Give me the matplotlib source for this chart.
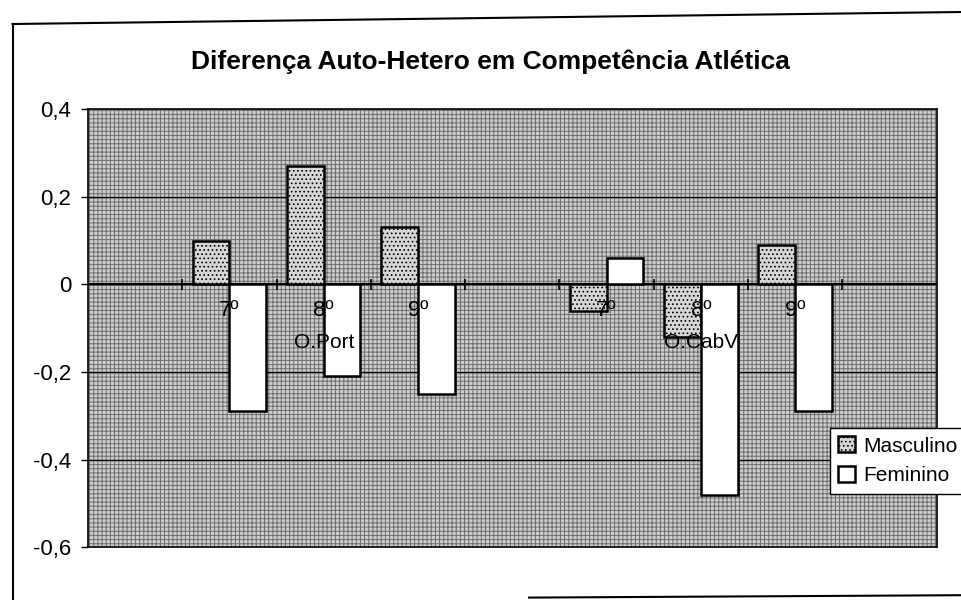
import numpy as np
import matplotlib.pyplot as plt
from matplotlib.lines import Line2D
from matplotlib.patches import Rectangle

plt.rcParams['font.family'] = ['Liberation Sans', 'DejaVu Sans']
plt.rcParams['hatch.linewidth'] = 0.7

# Data
categories = ['', '7º', '8º', '9º', '', '7º', '8º', '9º', '']
groups = ['O.Port', 'O.CabV']
group_centers = [2, 6]
masculino = [np.nan, 0.10, 0.27, 0.13, np.nan, -0.06, -0.12, 0.09, np.nan]
feminino = [np.nan, -0.29, -0.21, -0.25, np.nan, 0.06, -0.48, -0.29, np.nan]
yticks = [-0.6, -0.4, -0.2, 0, 0.2, 0.4]

fig = plt.figure(figsize=(9.62, 6.0), dpi=100)
ax = fig.add_axes([0.0915, 0.088, 0.882, 0.730])

x = np.arange(len(categories))
w = 0.39

# patterned plot area
ax.set_facecolor('#cdcdcd')
ax.add_patch(Rectangle((0, 0), 1, 1, transform=ax.transAxes, facecolor='none',
                       edgecolor='#6e6e6e', hatch='++++', linewidth=0, zorder=0))

ax.bar(x - w / 2, masculino, w, facecolor='#d6d6d6', edgecolor='black',
       hatch='....', linewidth=1.8, label='Masculino', zorder=3)
ax.bar(x + w / 2, feminino, w, facecolor='white', edgecolor='black',
       linewidth=1.8, label='Feminino', zorder=3)

ax.set_xlim(-0.5, len(categories) - 0.5)
ax.set_ylim(-0.6, 0.4)
ax.set_yticks(yticks)
ax.set_yticklabels([f'{v:.1f}'.replace('.', ',') if v != 0 else '0' for v in yticks],
                   fontsize=16)
ax.tick_params(axis='y', length=5, width=1, pad=7)
ax.set_xticks([])
for v in yticks[1:-1]:
    ax.axhline(v, color='black', linewidth=1, zorder=2)
ax.axhline(0, color='black', linewidth=1.5, zorder=2)
for s in ax.spines.values():
    s.set_linewidth(1.2)

# category tick marks crossing the zero axis
bounds = x[:-1] + 0.5
ax.vlines(bounds, -0.012, 0.012, color='black', linewidth=1.2, zorder=4)

for xi, c in zip(x, categories):
    if c:
        ax.annotate(c, (xi, 0), xytext=(0, -19), textcoords='offset points',
                    ha='center', va='center', fontsize=16, zorder=5)
for gc, g in zip(group_centers, groups):
    ax.annotate(g, (gc, 0), xytext=(0, -42), textcoords='offset points',
                ha='center', va='center', fontsize=15, zorder=5)

fig.text(0.51, 0.897, 'Diferença Auto-Hetero em Competência Atlética',
         ha='center', va='center', fontsize=19, fontweight='bold')

leg = ax.legend(loc='upper left', bbox_to_anchor=(830 / 962, 1 - 428 / 600),
                bbox_transform=fig.transFigure, fontsize=15, frameon=True,
                fancybox=False, edgecolor='black', framealpha=1,
                handlelength=0.8, handleheight=0.8, handletextpad=0.4,
                borderpad=0.4, labelspacing=0.5, borderaxespad=0)
leg.get_frame().set_linewidth(1.0)

# outer chart frame
fig.add_artist(Line2D([0.013, 0.013], [0.0, 0.96], color='black', lw=1.5))
fig.add_artist(Line2D([0.013, 1.0], [0.96, 0.98], color='black', lw=1.5))
fig.add_artist(Line2D([0.55, 1.0], [0.004, 0.008], color='black', lw=1.5))

fig.savefig('out.png', dpi=100)
